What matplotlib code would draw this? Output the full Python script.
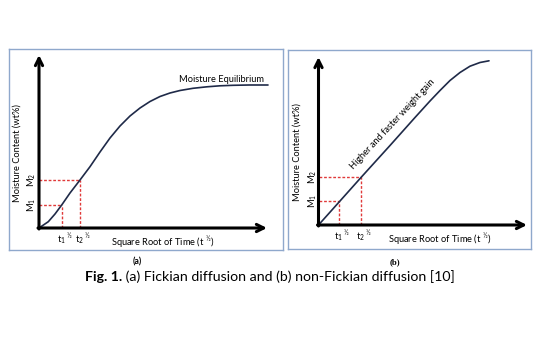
import matplotlib
matplotlib.use("Agg")
import matplotlib.pyplot as plt

# ---- data (arbitrary units, origin at the axes corner) ----
# (a) Fickian: S-shaped uptake curve levelling off at equilibrium
t_a = [0, 0.93, 1.6, 2.27, 3.1, 4.1, 5.1, 6.1, 7.1, 8.1, 9.1, 10.1, 11.1,
       12.1, 13.1, 14.1, 15.4, 16.8, 18.1, 19.4, 21.0, 22.9]
m_a = [0, 0.63, 1.4, 2.3, 3.5, 4.8, 6.13, 7.6, 9.0, 10.2, 11.2, 12.0,
       12.65, 13.15, 13.5, 13.75, 13.97, 14.12, 14.22, 14.27, 14.3, 14.3]
t12_a = [2.27, 4.1]
m12_a = [2.3, 4.8]

# (b) non-Fickian: near-linear uptake bending over at the top
t_b = [0, 2.15, 4.32, 7.15, 9.65, 11.15, 12.15, 13.15, 14.15, 15.15, 16.15, 17.05]
m_b = [0, 2.4, 4.83, 7.95, 10.75, 12.4, 13.45, 14.45, 15.25, 15.88, 16.25, 16.42]
t12_b = [2.05, 4.25]
m12_b = [2.4, 4.77]

# axis arrow lengths and frame limits
xend_a, yend_a = 22.8, 17.3
xend_b, yend_b = 20.85, 16.8
xlim_a, ylim_a = (-3.0, 24.4), (-2.2, 17.9)
xlim_b, ylim_b = (-3.05, 21.25), (-2.4, 17.5)

plt.rcParams['font.family'] = ['Lato', 'DejaVu Sans']

W, H = 541, 359
fig = plt.figure(figsize=(W / 100, H / 100), dpi=100)
ax_a = fig.add_axes([9 / W, 1 - 250 / H, 274 / W, 201 / H])
ax_b = fig.add_axes([288 / W, 1 - 249 / H, 243 / W, 199 / H])

frame_col = '#8FA8CC'
red = '#E03A3A'
navy = '#1F2A48'
fs = 6.7


def panel(ax, t, m, t12, m12, xend, yend, xlim, ylim, tx_y, mx_x):
    ax.set_xlim(*xlim)
    ax.set_ylim(*ylim)
    ax.set_xticks([])
    ax.set_yticks([])
    for s in ax.spines.values():
        s.set_color(frame_col)
        s.set_linewidth(1.0)

    # dashed guides to M1/M2 and t1/t2
    for tt, mm in zip(t12, m12):
        ax.plot([0, tt], [mm, mm], color=red, lw=1, dashes=(2, 1.3))
        ax.plot([tt, tt], [0, mm], color=red, lw=1, dashes=(2, 1.3))

    ax.plot(t, m, color=navy, lw=1.2, solid_capstyle='round',
            solid_joinstyle='round')

    # black axis arrows
    arr = dict(arrowstyle='->', lw=2.2, color='k', mutation_scale=13,
               shrinkA=0, shrinkB=0)
    ax.annotate('', xy=(0, yend), xytext=(0, -0.1), arrowprops=arr)
    ax.annotate('', xy=(xend, 0), xytext=(-0.1, 0), arrowprops=arr)

    for i, (tt, mm) in enumerate(zip(t12, m12)):
        ax.text(mx_x, mm, r'$\mathregular{M_%d}$' % (i + 1), rotation=90,
                ha='center', va='center', fontsize=fs)
        ax.text(tt + 0.35, tx_y, r'$\mathregular{{t_%d}^{\ ½}}$' % (i + 1),
                ha='center', va='center', fontsize=fs)


panel(ax_a, t_a, m_a, t12_a, m12_a, xend_a, yend_a, xlim_a, ylim_a, -1.1, -0.7)
panel(ax_b, t_b, m_b, t12_b, m12_b, xend_b, yend_b, xlim_b, ylim_b, -1.05, -0.6)

ax_a.text(18.27, 14.9, 'Moisture Equilibrium', ha='center', va='center',
          fontsize=fs)
ax_b.text(7.45, 10.1, 'Higher and faster weight gain', ha='center',
          va='center', fontsize=fs, rotation=47, rotation_mode='anchor')

for ax, (xl, yl), (yx, yy) in [(ax_a, (12.4, -1.45), (-2.2, 7.5)),
                               (ax_b, (12.15, -1.4), (-2.15, 7.3))]:
    ax.text(xl, yl, r'Square Root of Time (t $\mathregular{^{½}}$)',
            ha='center', va='center', fontsize=fs)
    ax.text(yx, yy, 'Moisture Content (wt%)', rotation=90, ha='center',
            va='center', fontsize=fs)

fig.text(137 / W, 1 - 262 / H, '(a)', ha='center', va='center', fontsize=6.3,
         fontweight='bold')
fig.text(395 / W, 1 - 262 / H, '(b)', ha='center', va='center', fontsize=6.3,
         fontweight='bold', family='Liberation Serif')

# caption: bold "Fig. 1." followed by regular text
cap_y = 1 - 277 / H
fig.canvas.draw()
r = fig.canvas.get_renderer()
t1 = fig.text(0, cap_y, 'Fig. 1.', fontsize=10.2, fontweight='bold',
              va='center')
t2 = fig.text(0, cap_y, ' (a) Fickian diffusion and (b) non-Fickian diffusion [10]',
              fontsize=10.2, va='center')
w1 = t1.get_window_extent(r).width
w2 = t2.get_window_extent(r).width
x0 = 270 - (w1 + w2) / 2
t1.set_x(x0 / W)
t2.set_x((x0 + w1) / W)

fig.savefig('out.png', dpi=100)
